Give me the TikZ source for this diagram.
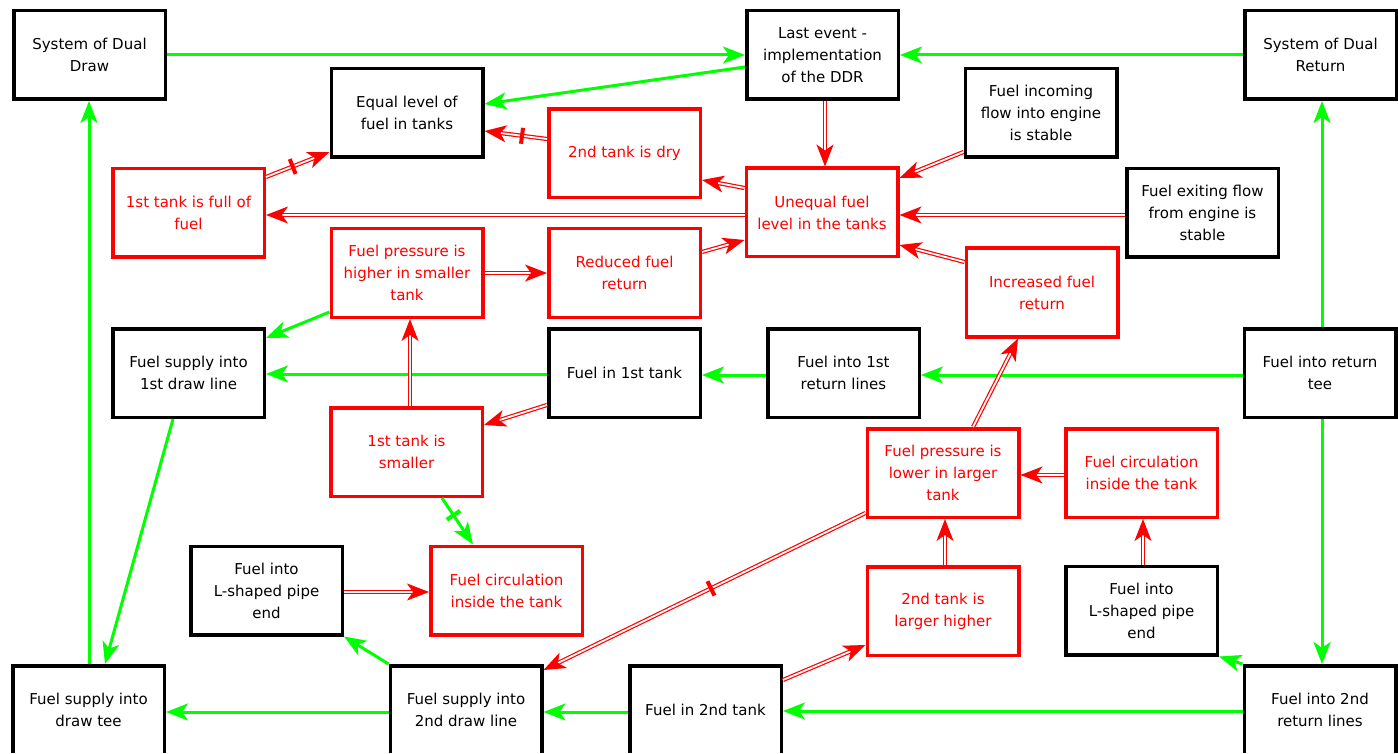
\documentclass[tikz,border=0pt]{standalone}
\usepackage{fontspec}
\setmainfont{DejaVu Sans}
\usetikzlibrary{arrows.meta,calc}

\definecolor{flowgreen}{RGB}{0,255,0}
\definecolor{causered}{RGB}{255,0,0}

\begin{document}
\begin{tikzpicture}[x=1pt, y=-1pt,
  box/.style={draw=black, line width=3.5pt, minimum width=151.5pt, minimum height=88.5pt,
    align=center, inner sep=0pt, font=\fontsize{15pt}{22pt}\selectfont},
  fact/.style={box, draw=causered, text=causered},
  tip/.style={-{Stealth[length=22pt,width=17pt,inset=6pt]}},
  flow/.style={draw=flowgreen, line width=3pt, tip},
  cause/.style={draw=causered, line width=1.2pt, double=white, double distance=1.8pt, tip},
  cross/.style={fill=#1, minimum width=4pt, minimum height=16pt, inner sep=0pt, outer sep=0pt, sloped},
]
\useasboundingbox (0,0) rectangle (1398,754);
\fill[white] (0,0) rectangle (1398,754);
\clip (0,0) rectangle (1398,752.6);

% ---- top row ----
\node[box]  (sysDraw)    at (89.5,55)   {System of Dual\\Draw};
\node[box]  (lastEvent)  at (822.5,55)  {Last event -\\implementation\\of the DDR};
\node[box]  (sysReturn)  at (1320.5,55) {System of Dual\\Return};
\node[box]  (equal)      at (407,113)   {Equal level of\\fuel in tanks};
\node[box]  (incoming)   at (1041,113)  {Fuel incoming\\flow into engine\\is stable};

% ---- upper middle ----
\node[fact] (full)       at (188.5,213) {1st tank is full of\\fuel};
\node[fact] (dry)        at (624.5,153.5) {2nd tank is dry};
\node[fact] (unequal)    at (822,212.5) {Unequal fuel\\level in the tanks};
\node[box]  (exiting)    at (1202.5,213) {Fuel exiting flow\\from engine is\\stable};
\node[fact] (pressHigher) at (407,273)  {Fuel pressure is\\higher in smaller\\tank};
\node[fact] (reduced)    at (624.5,273) {Reduced fuel\\return};
\node[fact] (increased)  at (1042,292.5) {Increased fuel\\return};

% ---- fuel path, first tank ----
\node[box]  (supply1st)  at (188.5,373) {Fuel supply into\\1st draw line};
\node[box]  (fuelIn1st)  at (624.5,373) {Fuel in 1st tank};
\node[box]  (into1stReturn) at (843.5,373) {Fuel into 1st\\return lines};
\node[box]  (returnTee)  at (1320,373)  {Fuel into return\\tee};
\node[fact] (smaller)    at (406.5,452) {1st tank is\\smaller};
\node[fact] (pressLower) at (943,473)   {Fuel pressure is\\lower in larger\\tank};
\node[fact] (circRight)  at (1141.5,473) {Fuel circulation\\inside the tank};

% ---- lower middle ----
\node[box]  (lLeft)      at (266.5,590.5) {Fuel into\\L-shaped pipe\\end};
\node[fact] (circLeft)   at (506.5,590.5) {Fuel circulation\\inside the tank};
\node[fact] (larger)     at (943,611)   {2nd tank is\\larger higher};
\node[box]  (lRight)     at (1141.5,610.5) {Fuel into\\L-shaped pipe\\end};

% ---- bottom row ----
\node[box]  (supplyTee)  at (88.5,710)  {Fuel supply into\\draw tee};
\node[box]  (supply2nd)  at (466,710)   {Fuel supply into\\2nd draw line};
\node[box]  (in2nd)      at (705.5,710) {Fuel in 2nd tank};
\node[box]  (into2ndReturn) at (1320,710) {Fuel into 2nd\\return lines};

% ---- fuel flow (green) ----
\draw[flow] (sysDraw.east |- 0,55) -- (lastEvent.west |- 0,55);
\draw[flow] (sysReturn.west |- 0,55) -- (lastEvent.east |- 0,55);
\draw[flow] (lastEvent.west |- 0,67) -- (equal.east |- 0,104);
\draw[flow] (returnTee.north -| 1322,0) -- (sysReturn.south -| 1322,0);
\draw[flow] (returnTee.south -| 1322,0) -- (into2ndReturn.north -| 1322,0);
\draw[flow] (returnTee.west |- 0,375) -- (into1stReturn.east |- 0,375);
\draw[flow] (into1stReturn.west |- 0,375) -- (fuelIn1st.east |- 0,375);
\draw[flow] (fuelIn1st.west |- 0,374) -- (supply1st.east |- 0,374);
\draw[flow] (pressHigher.west |- 0,312) -- (supply1st.east |- 0,338);
\draw[flow] (supply1st.south -| 173,0) -- (supplyTee.north -| 105,0);
\draw[flow] (supplyTee.north -| 89,0) -- (sysDraw.south -| 89,0);
\draw[flow] (supply2nd.west |- 0,712) -- (supplyTee.east |- 0,712);
\draw[flow] (in2nd.west |- 0,712) -- (supply2nd.east |- 0,712);
\draw[flow] (into2ndReturn.west |- 0,711) -- (in2nd.east |- 0,711);
\draw[flow] (supply2nd.north west) -- (lLeft.south east);
\draw[flow] (into2ndReturn.north west) -- (lRight.south east);
\draw[flow] (smaller.south -| 442,0) -- node[cross=flowgreen, pos=0.37] (x1) {} (circLeft.north -| 473,0);

% ---- causal links (red, double) ----
\draw[cause] (lastEvent.south -| 825,0) -- (unequal.north -| 825,0);
\draw[cause] (incoming.west |- 0,152) -- (unequal.east |- 0,178);
\draw[cause] (exiting.west |- 0,215) -- (unequal.east |- 0,215);
\draw[cause] (increased.west |- 0,262) -- (unequal.east |- 0,245);
\draw[cause] (unequal.west |- 0,188) -- (dry.east |- 0,180);
\draw[cause] (unequal.west |- 0,215) -- (full.east |- 0,215);
\draw[cause] (dry.west |- 0,139) -- node[cross=causered, pos=0.4] (x2) {} (equal.east |- 0,131);
\draw[cause] (full.east |- 0,177) -- node[cross=causered, pos=0.42] (x3) {} (equal.west |- 0,152);
\draw[cause] (reduced.east |- 0,252) -- (unequal.west |- 0,240);
\draw[cause] (pressHigher.east |- 0,273) -- (reduced.west |- 0,273);
\draw[cause] (smaller.north -| 410,0) -- (pressHigher.south -| 410,0);
\draw[cause] (fuelIn1st.west |- 0,405) -- (smaller.east |- 0,425);
\draw[cause] (lLeft.east |- 0,592) -- (circLeft.west |- 0,592);
\draw[cause] (pressLower.north -| 973,0) -- (increased.south -| 1018,0);
\draw[cause] (circRight.west |- 0,475) -- (pressLower.east |- 0,475);
\draw[cause] (larger.north -| 945,0) -- (pressLower.south -| 945,0);
\draw[cause] (lRight.north -| 1143,0) -- (circRight.south -| 1143,0);
\draw[cause] (in2nd.east |- 0,680) -- (larger.west |- 0,645);
\draw[cause] (pressLower.west |- 0,513) -- node[cross=causered, pos=0.48] (x4) {} (supply2nd.east |- 0,670);
\end{tikzpicture}
\end{document}
